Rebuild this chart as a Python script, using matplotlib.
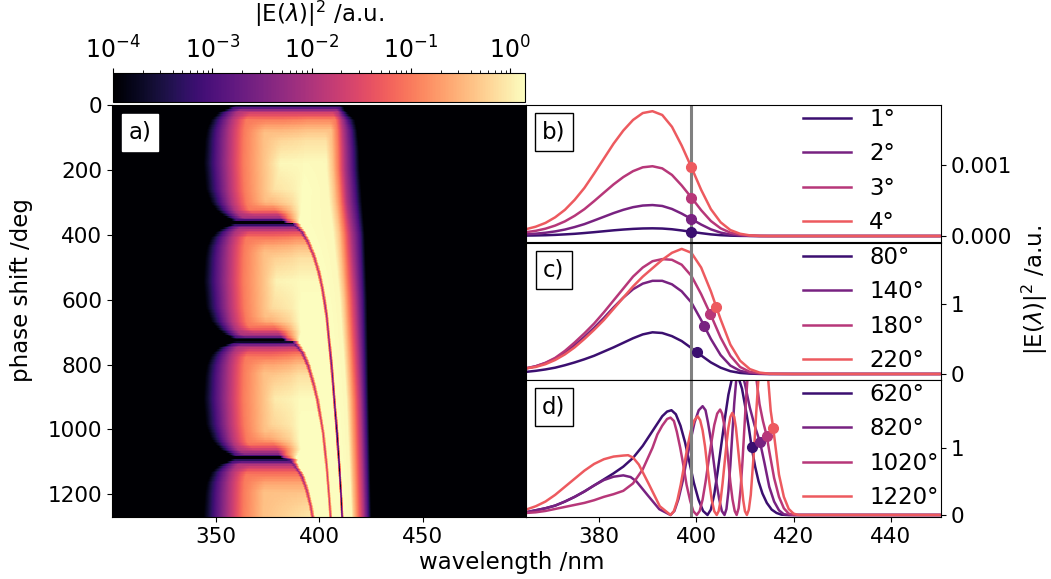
import numpy as np
import matplotlib
matplotlib.use("Agg")
import matplotlib.pyplot as plt
from matplotlib.colors import LogNorm

plt.rcParams['font.size'] = 15.5

W, H = 1051, 579
label_size = 16.5

# line colours, picked from magma
line_cols = [plt.cm.magma(v) for v in (0.2, 0.35, 0.5, 0.65)]

# ---- panel b ----
lam_bc = [365, 367, 369, 371, 373, 375, 377, 379, 381, 383, 385, 387, 389, 391, 393, 395, 397, 399, 401, 403, 405,
          407, 409, 411, 413, 415, 420, 450]
b_1 = [.006, .008, .011, .016, .023, .031, .042, .054, .067, .08, .091, .1, .106, .108, .105, .095, .078, .059,
       .04, .023, .012, .005, .002, .001, 0, 0, 0, 0]
b_2 = [.024, .033, .046, .065, .091, .126, .167, .218, .27, .322, .368, .405, .428, .435, .422, .38, .315, .239,
       .161, .094, .048, .021, .008, .002, 0, 0, 0, 0]
b_3 = [.054, .073, .103, .147, .206, .284, .377, .49, .608, .725, .828, .911, .965, .98, .95, .858, .71, .54,
       .363, .211, .108, .047, .018, .005, .001, 0, 0, 0]
b_4 = [.096, .131, .184, .263, .368, .508, .675, .877, 1.087, 1.297, 1.481, 1.63, 1.727, 1.753, 1.70, 1.534, 1.27,
       .965, .649, .377, .193, .084, .032, .009, .002, 0, 0, 0]
b_labels = ['1°', '2°', '3°', '4°']
b_dot_x = [399, 399, 399, 399]
b_dot_y = [.059, .239, .54, .965]

# ---- panel c ----
c_1 = [.03, .045, .065, .09, .125, .165, .21, .26, .32, .38, .445, .51, .565, .595, .585, .54, .47, .37, .265, .165,
       .09, .04, .015, .005, .001, 0, 0, 0]
c_2 = [.08, .11, .155, .22, .31, .41, .53, .66, .8, .95, 1.09, 1.21, 1.29, 1.33, 1.33, 1.28, 1.18, 1.02, .77, .5,
       .27, .12, .045, .015, .004, 0, 0, 0]
c_3 = [.08, .11, .16, .23, .33, .45, .58, .72, .88, 1.05, 1.22, 1.39, 1.52, 1.61, 1.64, 1.63, 1.56, 1.4, 1.14, .84,
       .52, .26, .1, .03, .01, .002, 0, 0]
c_4 = [.08, .1, .14, .2, .28, .38, .5, .63, .77, .93, 1.09, 1.25, 1.39, 1.51, 1.63, 1.73, 1.786, 1.73, 1.52, 1.18,
       .78, .42, .19, .07, .02, .004, 0, 0]
c_labels = ['80°', '140°', '180°', '220°']
c_dot_x = [400.1, 401.6, 402.9, 404.1]
c_dot_y = [.314, .68, .852, .957]

# ---- panel d, the lobes are narrow so each curve has its own wavelengths ----
d_lam_1 = [365, 367, 369, 371, 373, 375, 377, 379, 381, 383, 385, 387, 389, 391, 393, 394, 394.9, 395.8, 396.75, 397.7,
           398.6, 399.5, 400.45, 401.4, 402.3, 403, 403.7, 404.4, 405.15, 405.9, 406.6, 407.3, 408, 408.7, 409.4,
           410.1, 410.8, 411.4, 412.1, 412.8, 413.6, 414.5, 415.5, 416.5, 417.5, 418.5, 450]
d_1 = [.04, .07, .10, .14, .2, .27, .35, .44, .53, .62, .72, .85, 1.03, 1.25, 1.47, 1.54, 1.56, 1.5, 1.33, 1.08,
       .78, .48, .23, .06, 0, .08, .31, .65, 1.05, 1.45, 1.79, 2.02, 2.1, 2.04, 1.88, 1.6, 1.3, 1.0, .72, .5, .32,
       .18, .08, .03, .005, 0, 0]
d_lam_2 = [365, 367, 369, 371, 373, 375, 377, 379, 381, 383, 385, 386.5, 387.7, 390, 392.4, 394.7, 395.5, 396.35, 397.2,
           398, 398.85, 399.65, 400.5, 401.3, 401.9, 402.4, 403, 403.55, 404.1, 404.7, 405.25, 405.8, 406.2, 406.6,
           407, 407.4, 407.8, 408.2, 408.6, 409, 409.5, 410, 411, 412, 413.1, 414, 415, 416, 417, 418, 419, 450]
d_2 = [.04, .07, .1, .14, .2, .27, .35, .44, .52, .57, .59, .565, .5, .295, .086, 0, .06, .24, .5, .81, 1.12, 1.38,
       1.56, 1.62, 1.56, 1.38, 1.12, .81, .5, .24, .06, 0, .09, .35, .74, 1.2, 1.66, 2.0, 2.22, 2.3, 2.1, 1.95, 1.6,
       1.33, 1.085, .78, .42, .2, .07, .01, 0, 0]
d_lam_3 = [365, 367, 369, 371, 373, 375, 377, 379, 381, 383, 385, 387, 389, 391, 392, 393, 394, 394.7, 395.4, 396,
           396.7, 397.4, 398, 398.75, 399.4, 400.1, 400.7, 401.3, 401.9, 402.5, 403.1, 403.7, 404.3, 404.9, 405.3,
           405.75, 406.2, 406.6, 407, 407.45, 407.9, 408.3, 408.7, 409.1, 409.5, 409.85, 410.25, 410.6, 411, 411.4,
           412, 412.4, 413, 413.7, 414.5, 415, 416, 417, 418, 419, 420, 450]
d_3 = [.03, .04, .06, .09, .12, .15, .18, .22, .27, .31, .36, .47, .68, 1.0, 1.2, 1.33, 1.43, 1.45, 1.4, 1.24, 1.0,
       .72, .45, .21, .055, 0, .06, .23, .49, .79, 1.08, 1.34, 1.51, 1.57, 1.51, 1.34, 1.08, .79, .49, .23, .06, 0,
       .1, .38, .8, 1.25, 1.75, 2.1, 2.4, 2.5, 2.3, 2.0, 1.65, 1.4, 1.17, .95, .55, .27, .1, .02, 0, 0]
d_lam_4 = [365, 367, 369, 371, 373, 375, 377, 379, 381, 383, 385, 386, 387, 388.2, 390.35, 392.5, 394.7, 395.4, 396.1,
           396.8, 397.5, 398.2, 398.9, 399.6, 400.3, 400.8, 401.3, 401.8, 402.25, 402.75, 403.2, 403.7, 404.2, 404.6,
           405, 405.4, 405.8, 406.2, 406.6, 407, 407.4, 407.8, 408.15, 408.5, 408.9, 409.3, 409.65, 410, 410.4, 410.8,
           411.2, 411.5, 411.9, 412.3, 412.7, 413.1, 413.6, 414, 414.4, 414.8, 415.3, 415.8, 416.4, 417, 418, 419,
           420, 421, 450]
d_4 = [.08, .13, .2, .3, .42, .54, .66, .76, .83, .87, .885, .89, .855, .75, .445, .13, 0, .056, .215, .45, .735,
       1.02, 1.26, 1.41, 1.47, 1.41, 1.26, 1.02, .735, .45, .215, .056, 0, .058, .22, .47, .76, 1.05, 1.3, 1.46,
       1.52, 1.46, 1.3, 1.05, .76, .47, .22, .058, 0, .08, .3, .6, 1.0, 1.5, 1.95, 2.3, 2.45, 2.3, 2.15, 2.0, 1.55,
       1.3, .95, .6, .27, .09, .02, 0, 0]
d_labels = ['620°', '820°', '1020°', '1220°']
d_dot_x = [411.4, 413.1, 414.5, 415.8]
d_dot_y = [1.005, 1.085, 1.17, 1.30]

# ---- panel a: hand read estimate of the map, as contour positions ----
# starts of the lobes (deg), the dark lines sit here
lobe_starts = [0, 363, 726, 1088]
lobe_gain = [0, -0.05, -0.12, -0.15]

# left flank: wavelength where log10(I) reaches -4, -3, -2, -1, -0.4, against position in the lobe
u_keys = [0, 4, 10, 16, 25, 45, 75, 110, 180, 260, 303, 325, 340, 350, 356, 360]
lobe_top = [-4.4, -3.6, -2.8, -2.2, -1.6, -1.0, -0.5, -0.2, 0.1, -0.1, -0.5, -1.1, -1.8, -2.3, -3.2, -4.4]
lobe_right = [-4.4, -3.6, -2.8, -2.2, -1.6, -0.9, -0.4, -0.1, 0.12, 0.15, 0.15, 0.15, 0.15, 0.15, 0.15, 0.15]
left_m4 = [357.8, 357.8, 356.2, 353.8, 350.9, 347.8, 345.7, 344.8, 344.1, 345.2, 347.8, 350.6, 353.4, 356.7, 357.8, 357.8]
left_m3 = [360.2, 360.2, 358.6, 357.3, 354.6, 352.2, 350.6, 350, 349.7, 350.6, 352.5, 354.6, 357, 359.4, 360.2, 360.2]
left_m2 = [365, 365, 363.4, 361.8, 360.2, 357.8, 356.7, 356.4, 356.2, 356.7, 357.8, 359.4, 361.8, 364.2, 365, 365]
left_m1 = [371.5, 371.5, 369.9, 368.3, 366.6, 365, 363.9, 363.6, 363.4, 363.9, 365, 366.6, 369, 371.5, 371.5, 371.5]
left_m04 = [381.1, 381.1, 379.5, 377.9, 376.3, 374.7, 373.9, 373.4, 373.1, 373.4, 374.4, 375.5, 377.1, 379.5, 381.1, 381.1]

# soft knee of a lobe before the next fringe starts, half widths in nm
knee_u = [0, 200, 300, 340, 360]
knee_left = [8, 8, 10, 5, 2]
knee_right = [4, 4, 5, 6, 6]

# right flank, wavelength of the same levels against phase, right_p0 is where the pale band ends
right_phase = [0, 15, 46, 77, 138, 200, 300, 400, 600, 908, 1270]
right_p0 = [400.5, 402.1, 402.4, 402.9, 403.4, 403.7, 405, 406.9, 410.1, 413.3, 415.8]
right_m04 = [403, 404, 405, 405.8, 406.4, 406.9, 408, 410, 412.3, 415, 417]
right_m1 = [405, 406, 408, 408.7, 409.1, 409.3, 410.5, 412.2, 414.3, 417, 418.8]
right_m2 = [407.5, 408.5, 411, 411.8, 412.3, 412.5, 413.5, 415.6, 417.8, 420, 421.6]
right_m3 = [409.5, 410.5, 414, 415.6, 416.3, 416.6, 417.8, 419.7, 421, 422.3, 423.6]
right_m4 = [411.7, 412.5, 417.4, 418.5, 419.5, 419.8, 420.9, 422.2, 423.3, 424.1, 425.3]

# the three thin fringes, wavelength against phase, knee of the lobe before they start
f1_phase = [0, 200, 300, 363, 370, 390, 425, 467, 518, 569, 620, 651, 702, 805, 908, 1010, 1113, 1215, 1270]
f1_lam = [390.8, 389.2, 386.8, 384.4, 387.6, 391.6, 394.8, 397.6, 400, 401.7, 403, 403.7, 404.5, 406.1, 407.4, 408.7,
          409.8, 410.8, 411.2]
f2_phase = [363, 400, 500, 600, 700, 726, 738, 763, 805, 856, 908, 1010, 1113, 1215, 1270]
f2_lam = [383.4, 385, 387.5, 387.2, 385.5, 384.4, 388.4, 391.9, 394.8, 397.2, 399.2, 402, 403.7, 405, 405.6]
f3_phase = [726, 800, 950, 1060, 1088, 1095, 1113, 1143, 1185, 1236, 1270]
f3_lam = [383.4, 386, 387, 385.5, 382.8, 386, 388.4, 391.6, 394, 396, 396.9]

# depth of the fringes, log10(I) against phase
f1_dip_phase = [363, 390, 425, 518, 620, 805, 908, 1010, 1113, 1270]
f1_dip = [-3.2, -2.5, -2.0, -1.9, -2.2, -2.8, -3.2, -3.6, -3.8, -3.6]
f2_dip_phase = [726, 763, 856, 1010, 1270]
f2_dip = [-3.2, -2.3, -1.9, -1.8, -1.8]
f3_dip_phase = [1088, 1113, 1185, 1270]
f3_dip = [-3.2, -2.4, -1.9, -1.8]

# half widths of a fringe, nm, against distance from its start
width_keys = [0, 10, 30, 100, 300, 900]
width_left = [2, 1.5, 1.3, 1.2, .95, .75]
width_right = [6, 3, 1.8, 1.3, .95, .75]

bright = 0.15
phases = np.arange(0, 1271, 5.0)
lam_grid = np.arange(300, 500.01, 0.1)

rows = []
for p in phases:
    k = np.searchsorted(lobe_starts, p, side='right') - 1
    u = p - lobe_starts[k]
    top = np.interp(u, u_keys, lobe_top) + lobe_gain[k]
    hold = np.interp(u, u_keys, lobe_right)
    s0 = top
    s1 = hold if k == 2 else (bright if k == 3 else top)
    s2 = top if k == 0 else (hold if k == 1 else bright)
    s3 = hold if k == 0 else bright

    left = [np.interp(u, u_keys, a) for a in (left_m4, left_m3, left_m2, left_m1, left_m04)]
    right = [np.interp(p, right_phase, a) for a in (right_p0, right_m04, right_m1, right_m2, right_m3, right_m4)]

    xs = [300] + left
    vs = [-5] + [min(lev, top) for lev in (-4, -3, -2, -1, -0.4)]

    for fp, fl, dp, dv, st, a, b in ((f3_phase, f3_lam, f3_dip_phase, f3_dip, 1088, s0, s1),
                                     (f2_phase, f2_lam, f2_dip_phase, f2_dip, 726, s1, s2),
                                     (f1_phase, f1_lam, f1_dip_phase, f1_dip, 363, s2, s3)):
        if p >= st:
            c = np.interp(p, fp, fl)
            xs += [c - np.interp(p - st, width_keys, width_left), c, c + np.interp(p - st, width_keys, width_right)]
            vs += [a, np.interp(p, dp, dv), b]
        elif k < 3 and st == lobe_starts[k + 1]:
            # the next fringe is only a knee for now
            c = np.interp(p, fp, fl)
            xs += [c - np.interp(u, knee_u, knee_left), c, c + np.interp(u, knee_u, knee_right)]
            vs += [a, (a + b) / 2, b]

    xs += right + [500]
    vs += [min(lev, s3) for lev in (0.1, -0.4, -1, -2, -3, -4)] + [-5]
    xs = np.maximum.accumulate(xs) + 1e-6 * np.arange(len(xs))
    rows.append(np.interp(lam_grid, xs, vs))

Z = 10.0 ** np.array(rows)


def box(x0, y0, x1, y1):
    # pixel box of the reference to figure fractions
    return [x0 / W, 1 - y1 / H, (x1 - x0) / W, (y1 - y0) / H]


fig = plt.figure(figsize=(W / 100, H / 100), dpi=100)

ax_a = fig.add_axes(box(112, 105, 526, 517))
mesh = ax_a.pcolormesh(lam_grid, phases, Z, shading='nearest', cmap='magma', norm=LogNorm(1e-4, 1.41))
ax_a.set_xlim(300, 500)
ax_a.set_ylim(1270, 0)
ax_a.set_xticks([350, 400, 450])
ax_a.set_yticks(np.arange(0, 1201, 200))
ax_a.text(0.068, 0.934, 'a)', transform=ax_a.transAxes, ha='center', va='center', fontsize=label_size,
          bbox=dict(boxstyle='square,pad=0.3', facecolor='white', edgecolor='white'))

cax = fig.add_axes(box(113, 73, 525, 102))
cb = fig.colorbar(mesh, cax=cax, orientation='horizontal')
cax.xaxis.set_ticks_position('top')
cax.xaxis.set_label_position('top')
cax.tick_params(labelsize=17)
cb.set_label(r'|E($\lambda$)|$^2$ /a.u.', labelpad=10, fontsize=label_size)

panels = [
    (box(526, 105, 941, 242), [lam_bc] * 4, [b_1, b_2, b_3, b_4], b_labels, b_dot_x, b_dot_y,
     (-0.000084, 0.00184), 'b)'),
    (box(526, 243, 941, 380), [lam_bc] * 4, [c_1, c_2, c_3, c_4], c_labels, c_dot_x, c_dot_y, (-0.086, 1.87), 'c)'),
    (box(526, 380, 941, 517), [d_lam_1, d_lam_2, d_lam_3, d_lam_4], [d_1, d_2, d_3, d_4], d_labels, d_dot_x, d_dot_y,
     (-0.03, 2.01), 'd)'),
]

for pos, lams, series, labels, dot_x, dot_y, ylim, tag in panels:
    ax = fig.add_axes(pos)
    scale = 1e-3 if tag == 'b)' else 1
    for lam, s, lab, col in zip(lams, series, labels, line_cols):
        ax.plot(lam, np.array(s) * scale, color=col, lw=1.8, label=lab)
    ax.axvline(399, color='gray', lw=2.2)
    for dx, dy, col in zip(dot_x, dot_y, line_cols):
        ax.plot([dx], [dy * scale], 'o', color=col, ms=7, zorder=5)
    ax.set_xlim(365, 450.3)
    ax.set_ylim(*ylim)
    ax.yaxis.tick_right()
    if tag == 'b)':
        ax.set_yticks([0, 0.001])
        ax.set_yticklabels(['0.000', '0.001'])
    else:
        ax.set_yticks([0, 1])
    if tag == 'd)':
        ax.set_xticks([380, 400, 420, 440])
    else:
        ax.set_xticks([])
    ax.legend(frameon=False, loc='upper left', bbox_to_anchor=(0.667, 0.98), fontsize=label_size,
              borderaxespad=0, borderpad=0, labelspacing=0.5, handlelength=2.1, handletextpad=0.8)
    ax.text(0.067, 0.805, tag, transform=ax.transAxes, ha='center', va='center', fontsize=label_size,
            bbox=dict(boxstyle='square,pad=0.32', facecolor='white', edgecolor='black'))

fig.text(512 / W, 1 - 563 / H, 'wavelength /nm', ha='center', va='center', fontsize=label_size)
fig.text(22 / W, 1 - 290 / H, 'phase shift /deg', rotation=90, ha='center', va='center', fontsize=label_size)
fig.text(1035 / W, 1 - 290 / H, r'|E($\lambda$)|$^2$ /a.u.', rotation=90, ha='center', va='center', fontsize=label_size)

fig.savefig('out.png', dpi=100)
